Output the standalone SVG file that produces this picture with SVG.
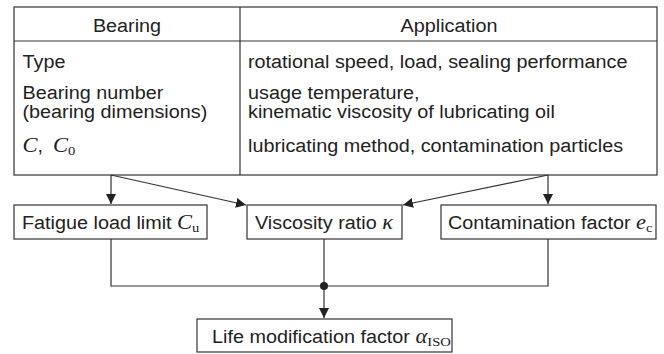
<svg xmlns="http://www.w3.org/2000/svg" width="664" height="354" viewBox="0 0 664 354">
<defs>
<style>
.t{font-family:"Liberation Sans",Arial,sans-serif;font-size:17.6px;fill:#222}
.m{font-family:"Liberation Serif","Times New Roman",serif;font-style:italic;font-size:20px}
.s{font-family:"Liberation Serif","Times New Roman",serif;font-style:normal;font-size:13px}
.b{fill:#fff;stroke:#333;stroke-width:1.2}
.l{fill:none;stroke:#333;stroke-width:1.2}
</style>
<marker id="ah" viewBox="0 0 10 10" refX="10" refY="5" markerWidth="10" markerHeight="10" markerUnits="userSpaceOnUse" orient="auto">
<path d="M0,0 L10,5 L0,10 z" fill="#222"/>
</marker>
</defs>
<g id="table">
<rect class="b" x="14" y="7" width="643" height="168"/>
<line class="l" x1="14" y1="41" x2="657" y2="41"/>
<line class="l" x1="240" y1="7" x2="240" y2="175"/>
<text class="t" transform="translate(127,32) scale(1.125,1)" text-anchor="middle">Bearing</text>
<text class="t" transform="translate(449,32) scale(1.125,1)" text-anchor="middle">Application</text>
<text class="t" transform="translate(22.5,68) scale(1.125,1)">Type</text>
<text class="t" transform="translate(22.5,98.5) scale(1.125,1)">Bearing number</text>
<text class="t" transform="translate(22.5,118) scale(1.125,1)">(bearing dimensions)</text>
<text class="t" transform="translate(22.5,152) scale(1.125,1)"><tspan class="m">C</tspan>,<tspan class="m" dx="9">C</tspan><tspan class="s" dy="3">0</tspan></text>
<text class="t" transform="translate(248,68) scale(1.125,1)">rotational speed, load, sealing performance</text>
<text class="t" transform="translate(248,98.5) scale(1.125,1)">usage temperature,</text>
<text class="t" transform="translate(248,118) scale(1.125,1)">kinematic viscosity of lubricating oil</text>
<text class="t" transform="translate(248,152) scale(1.125,1)">lubricating method, contamination particles</text>
</g>
<g id="fatigue">
<rect class="b" x="14" y="205" width="193" height="34"/>
<text class="t" transform="translate(22,229) scale(1.125,1)">Fatigue load limit <tspan class="m">C</tspan><tspan class="s" dy="3">u</tspan></text>
</g>
<g id="viscosity">
<rect class="b" x="247" y="205" width="155" height="34"/>
<text class="t" transform="translate(255,229) scale(1.125,1)">Viscosity ratio <tspan class="m">κ</tspan></text>
</g>
<g id="contamination">
<rect class="b" x="441" y="205" width="215" height="34"/>
<text class="t" transform="translate(448,229) scale(1.125,1)">Contamination factor <tspan class="m">e</tspan><tspan class="s" dy="3">c</tspan></text>
</g>
<g id="life">
<rect class="b" x="197" y="319" width="255" height="33"/>
<text class="t" transform="translate(212,343) scale(1.125,1)">Life modification factor <tspan class="m">α</tspan><tspan class="s" dy="3">ISO</tspan></text>
</g>
<g id="connectors">
<line class="l" x1="111" y1="175" x2="111" y2="204" marker-end="url(#ah)"/>
<line class="l" x1="111" y1="175" x2="246" y2="205" marker-end="url(#ah)"/>
<line class="l" x1="548" y1="175" x2="403" y2="205" marker-end="url(#ah)"/>
<line class="l" x1="548" y1="175" x2="548" y2="204" marker-end="url(#ah)"/>
<polyline class="l" points="111,239 111,286 548,286 548,239"/>
<line class="l" x1="324" y1="239" x2="324" y2="318" marker-end="url(#ah)"/>
<circle cx="324" cy="286" r="4" fill="#222"/>
</g>
</svg>
